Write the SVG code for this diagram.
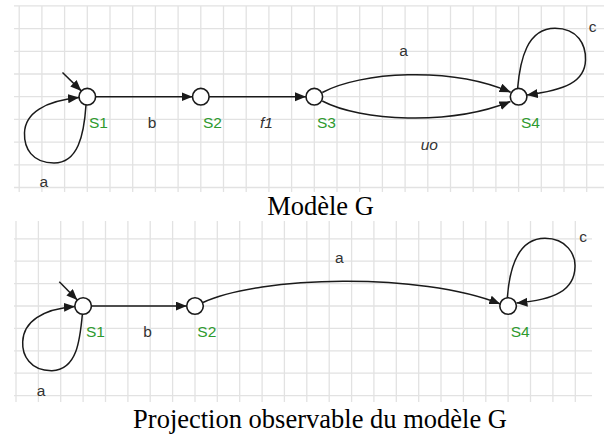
<svg xmlns="http://www.w3.org/2000/svg" width="605" height="436" viewBox="0 0 605 436">
<style>
.grid{fill:none;stroke:#e2e2e2;stroke-width:1.3}
.edge{fill:none;stroke:#1a1a1a;stroke-width:1.5}
.node{fill:#fff;stroke:#1a1a1a;stroke-width:1.6}
.sl{font-family:"Liberation Sans",Arial,sans-serif;font-size:15.5px;fill:#2e9a2e}
.el{font-family:"Liberation Sans",Arial,sans-serif;font-size:15.5px;fill:#333}
.it{font-style:italic}
.title{font-family:"Liberation Serif","Times New Roman",serif;font-size:26.5px;fill:#000;text-anchor:middle}
</style>
<defs>
<marker id="arr" markerUnits="userSpaceOnUse" markerWidth="12" markerHeight="10" refX="11" refY="4.5" orient="auto">
<path d="M0,0 L11,4.5 L0,9 z" fill="#1a1a1a"/>
</marker>
</defs>
<rect width="605" height="436" fill="#fff"/>
<g id="grid-top">
<path class="grid" d="M14,5.9H604M14,28.6H604M14,51.3H604M14,74H604M14,96.7H604M14,119.4H604M14,142.1H604M14,164.8H604M14,187.5H604"/>
<path class="grid" d="M19.2,5.9V192M41.9,5.9V192M64.6,5.9V192M87.3,5.9V192M110,5.9V192M132.7,5.9V192M155.4,5.9V192M178.1,5.9V192M200.8,5.9V192M223.5,5.9V192M246.2,5.9V192M268.9,5.9V192M291.6,5.9V192M314.3,5.9V192M337,5.9V192M359.7,5.9V192M382.4,5.9V192M405.1,5.9V192M427.8,5.9V192M450.5,5.9V192M473.2,5.9V192M495.9,5.9V192M518.6,5.9V192M541.3,5.9V192M564,5.9V192M586.7,5.9V192"/>
</g>
<g id="grid-bottom">
<path class="grid" d="M14,238.8H592M14,261.2H592M14,283.6H592M14,306H592M14,328.4H592M14,350.8H592M14,373.2H592M14,395.6H592"/>
<path class="grid" d="M16,221V402M38.4,221V402M60.7,221V402M83.1,221V402M105.5,221V402M127.9,221V402M150.2,221V402M172.6,221V402M195,221V402M217.3,221V402M239.7,221V402M262.1,221V402M284.4,221V402M306.8,221V402M329.2,221V402M351.6,221V402M373.9,221V402M396.3,221V402M418.7,221V402M441,221V402M463.4,221V402M485.8,221V402M508.1,221V402M530.5,221V402M552.9,221V402M575.3,221V402"/>
</g>
<g id="connectors">
<path class="edge" marker-end="url(#arr)" d="M62.5,72.5 L81.3,90.9"/>
<path class="edge" marker-end="url(#arr)" d="M86,105 C84,135 78,163 54,163 C32,163 24,148 24.5,133 C25,113 45,101 79,97.6"/>
<path class="edge" marker-end="url(#arr)" d="M95.6,96.7 L192.5,96.7"/>
<path class="edge" marker-end="url(#arr)" d="M209.1,96.7 L306,96.7"/>
<path class="edge" marker-end="url(#arr)" d="M322.3,92.5 C360,72 450,66 510.6,92.2"/>
<path class="edge" marker-end="url(#arr)" d="M322.3,101 C360,121 450,126 510.4,101.5"/>
<path class="edge" marker-end="url(#arr)" d="M517.6,88.5 C520,60 527,28.3 555,28.3 C578,28.3 586,45 585.5,60 C585,82 565,90 526.8,95"/>
<path class="edge" marker-end="url(#arr)" d="M59.3,281.7 L77.3,300.1"/>
<path class="edge" marker-end="url(#arr)" d="M82.4,314 C80,340 77,370 52,370.7 C30,371 22,355 22.7,341.7 C23.5,322 42,309 74.9,306.5"/>
<path class="edge" marker-end="url(#arr)" d="M91.4,306 L186.7,306"/>
<path class="edge" marker-end="url(#arr)" d="M203,302.5 C260,276 420,272 500.3,304"/>
<path class="edge" marker-end="url(#arr)" d="M507.3,298 C509,275 515,238.3 545,238.3 C567,238.3 575.5,255 575,266.7 C574.5,290 555,300 516.5,303"/>
</g>
<g id="edge-labels">
<text class="el" x="147.7" y="128.3">b</text>
<text class="el it" x="260" y="128.3">f1</text>
<text class="el" x="399.3" y="56">a</text>
<text class="el it" x="420.7" y="150">uo</text>
<text class="el" x="588.7" y="32.3">c</text>
<text class="el" x="39.5" y="187.3">a</text>
<text class="el" x="143.3" y="336.7">b</text>
<text class="el" x="335" y="263.3">a</text>
<text class="el" x="579.3" y="241.7">c</text>
<text class="el" x="36.7" y="396">a</text>
</g>
<g id="G-S1"><circle class="node" cx="87.3" cy="96.7" r="8.3"/><text class="sl" x="89" y="128.3">S1</text></g>
<g id="G-S2"><circle class="node" cx="200.8" cy="96.7" r="8.3"/><text class="sl" x="203" y="128.3">S2</text></g>
<g id="G-S3"><circle class="node" cx="314.3" cy="96.7" r="8.3"/><text class="sl" x="317" y="128.3">S3</text></g>
<g id="G-S4"><circle class="node" cx="518.6" cy="96.7" r="8.3"/><text class="sl" x="521" y="128.3">S4</text></g>
<g id="P-S1"><circle class="node" cx="83.1" cy="306" r="8.3"/><text class="sl" x="86" y="336.7">S1</text></g>
<g id="P-S2"><circle class="node" cx="195" cy="306" r="8.3"/><text class="sl" x="197.3" y="336.7">S2</text></g>
<g id="P-S4"><circle class="node" cx="508.1" cy="306" r="8.3"/><text class="sl" x="510.7" y="336.7">S4</text></g>
<g id="titles">
<text class="title" x="320.5" y="215">Modèle G</text>
<text class="title" x="320" y="427.5">Projection observable du modèle G</text>
</g>
</svg>
